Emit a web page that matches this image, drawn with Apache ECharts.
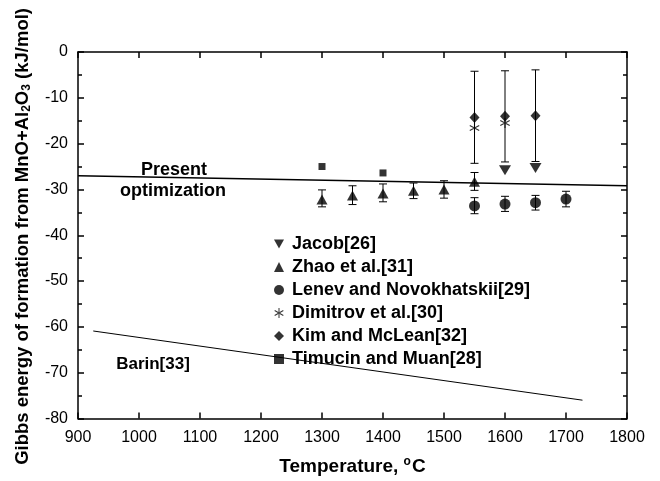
<!DOCTYPE html>
<html>
<head>
<meta charset="utf-8">
<script src="https://cdn.jsdelivr.net/npm/echarts@6/dist/echarts.min.js"></script>
<style>
  html, body { margin: 0; padding: 0; background: #fff; }
  #chart { width: 660px; height: 481px; }
</style>
</head>
<body>
<div id="chart"></div>
<script>
// data: [temperature C, value kJ/mol]
var jacob = [[1600, -25.8], [1650, -25.3]];
var zhao = [[1300, -32.2], [1350, -31.3], [1400, -30.9], [1450, -30.3], [1500, -30.0], [1550, -28.3]];
var zhaoErr = [[1300, -33.8, -30.1], [1350, -33.3, -29.2], [1400, -32.7, -28.8], [1450, -32.0, -28.6], [1500, -31.9, -28.1], [1550, -30.2, -26.3]];
var lenev = [[1550, -33.6], [1600, -33.2], [1650, -32.9], [1700, -32.1]];
var lenevErr = [[1550, -35.3, -31.8], [1600, -34.8, -31.5], [1650, -34.5, -31.3], [1700, -33.8, -30.4]];
var dimitrov = [[1550, -16.6], [1600, -15.5]];
var kim = [[1550, -14.3], [1600, -14.0], [1650, -13.9]];
var kimErr = [[1550, -24.3, -4.2], [1600, -24.0, -4.1], [1650, -23.9, -3.9]];
var timucin = [[1300, -25.0], [1400, -26.4]];
var presentLine = [[900, -27.0], [1800, -29.2]];
var barinLine = [[925, -60.9], [1727, -76.0]];

var xTicks = [900, 1800, 100];
var yTicks = [-80, 0, 10];

var legendNames = ['Jacob[26]', 'Zhao et al.[31]', 'Lenev and Novokhatskii[29]',
  'Dimitrov et al.[30]', 'Kim and McLean[32]', 'Timucin and Muan[28]'];

var FONT = 'Liberation Sans, Arial, Helvetica, sans-serif';

var triDown = 'path://M0 0 L100 0 L50 90 Z';
var asterisk = 'path://M45 0 L55 0 L55 100 L45 100 Z ' +
  'M4.2 29.3 L90.8 79.3 L95.8 70.7 L9.2 20.7 Z ' +
  'M9.2 79.3 L95.8 29.3 L90.8 20.7 L4.2 70.7 Z';

function errorBars(data) {
  return {
    type: 'custom',
    data: data,
    z: 1,
    silent: true,
    renderItem: function (params, api) {
      var x = api.value(0);
      var lo = api.coord([x, api.value(1)]);
      var hi = api.coord([x, api.value(2)]);
      var w = 4;
      var st = { stroke: '#000', lineWidth: 1 };
      return {
        type: 'group',
        children: [
          { type: 'line', shape: { x1: lo[0], y1: lo[1], x2: hi[0], y2: hi[1] }, style: st },
          { type: 'line', shape: { x1: lo[0] - w, y1: lo[1], x2: lo[0] + w, y2: lo[1] }, style: st },
          { type: 'line', shape: { x1: hi[0] - w, y1: hi[1], x2: hi[0] + w, y2: hi[1] }, style: st }
        ]
      };
    }
  };
}

function scatter(name, data, symbol, size) {
  return {
    name: name,
    type: 'scatter',
    data: data,
    symbol: symbol,
    symbolSize: size,
    z: 3,
    itemStyle: { color: '#000' }
  };
}

var chart = echarts.init(document.getElementById('chart'));

function axisBase() {
  return {
    type: 'value',
    axisLine: { show: true, onZero: false, lineStyle: { color: '#000', width: 1.5 } },
    axisTick: { show: true, inside: true, length: 6, lineStyle: { color: '#000', width: 1.5 } },
    splitLine: { show: false }
  };
}

var minor = { show: true, splitNumber: 2, length: 4, lineStyle: { color: '#000', width: 1.5 } };

var xBottom = Object.assign(axisBase(), {
  min: xTicks[0], max: xTicks[1], interval: xTicks[2], position: 'bottom',
  axisLabel: { color: '#000', fontSize: 16, margin: 11, fontFamily: FONT, formatter: function (v) { return String(v); } },
  name: 'Temperature, {sup|o}C',
  nameLocation: 'middle',
  nameGap: 37,
  nameTextStyle: {
    color: '#000', fontSize: 19, fontWeight: 'bold', fontFamily: FONT,
    rich: { sup: { fontSize: 12, fontWeight: 'bold', padding: [0, 1, 10, 0], fontFamily: FONT } }
  }
});
var xTop = Object.assign(axisBase(), {
  min: xTicks[0], max: xTicks[1], interval: xTicks[2], position: 'top',
  axisLabel: { show: false }
});
var yLeft = Object.assign(axisBase(), {
  min: yTicks[0], max: yTicks[1], interval: yTicks[2], position: 'left',
  axisLabel: { color: '#000', fontSize: 16, margin: 10, fontFamily: FONT },
  minorTick: minor
});
var yRight = Object.assign(axisBase(), {
  min: yTicks[0], max: yTicks[1], interval: yTicks[2], position: 'right',
  axisLabel: { show: false },
  minorTick: minor
});

var option = {
  animation: false,
  backgroundColor: '#fff',
  textStyle: { fontFamily: FONT },
  grid: { left: 78, right: 33, top: 52, bottom: 53 },
  xAxis: [xBottom, xTop],
  yAxis: [yLeft, yRight],
  legend: {
    data: [
      { name: legendNames[0], icon: triDown },
      { name: legendNames[1], icon: 'triangle' },
      { name: legendNames[2], icon: 'circle' },
      { name: legendNames[3], icon: asterisk },
      { name: legendNames[4], icon: 'diamond' },
      { name: legendNames[5], icon: 'rect' }
    ],
    orient: 'vertical',
    left: 269,
    top: 230,
    itemGap: 5,
    itemWidth: 10,
    itemHeight: 10,
    textStyle: { color: '#000', fontSize: 18, fontWeight: 'bold', fontFamily: FONT, padding: [0, 0, 0, 3] }
  },
  graphic: [
    {
      type: 'text', left: 13, top: 8, rotation: Math.PI / 2,
      style: {
        text: 'Gibbs energy of formation from MnO+Al{sub|2}O{sub|3} (kJ/mol)',
        fill: '#000', font: 'bold 18.5px ' + FONT,
        rich: { sub: { fontSize: 12, fontWeight: 'bold', fontFamily: FONT, padding: [9, 0, 0, 0] } }
      }
    },
    { type: 'text', x: 174, y: 170, style: { text: 'Present', fill: '#000', font: 'bold 18px ' + FONT, textAlign: 'center', textVerticalAlign: 'middle' } },
    { type: 'text', x: 173, y: 191, style: { text: 'optimization', fill: '#000', font: 'bold 18px ' + FONT, textAlign: 'center', textVerticalAlign: 'middle' } },
    { type: 'text', x: 153, y: 364, style: { text: 'Barin[33]', fill: '#000', font: 'bold 17px ' + FONT, textAlign: 'center', textVerticalAlign: 'middle' } }
  ],
  series: [
    {
      type: 'line', data: presentLine, symbol: 'none', silent: true, z: 2,
      lineStyle: { color: '#000', width: 1.6 }
    },
    {
      type: 'line', data: barinLine, symbol: 'none', silent: true, z: 2,
      lineStyle: { color: '#000', width: 1 }
    },
    errorBars(zhaoErr),
    errorBars(lenevErr),
    errorBars(kimErr),
    scatter(legendNames[0], jacob, triDown, [12, 10]),
    scatter(legendNames[1], zhao, 'triangle', [11, 10]),
    scatter(legendNames[2], lenev, 'circle', 11),
    scatter(legendNames[3], dimitrov, asterisk, 10),
    scatter(legendNames[4], kim, 'diamond', [10, 11]),
    scatter(legendNames[5], timucin, 'rect', 7)
  ]
};

chart.setOption(option);
</script>
</body>
</html>
